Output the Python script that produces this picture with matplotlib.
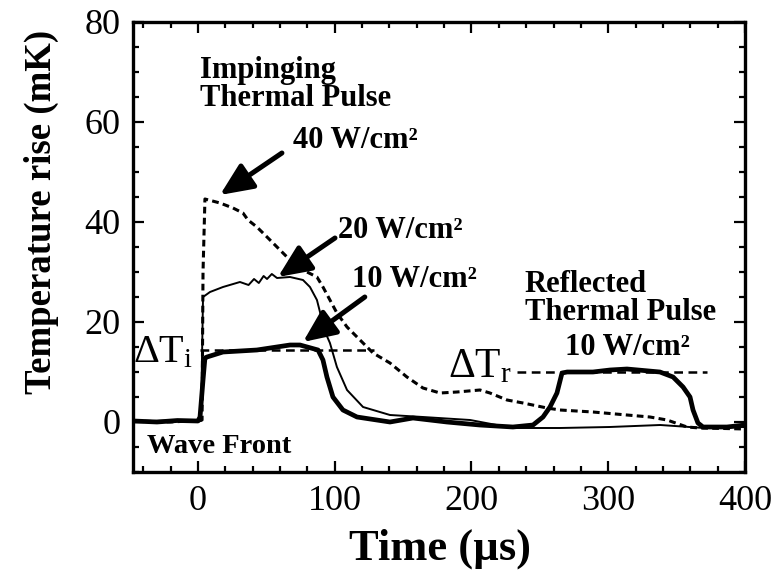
import matplotlib
matplotlib.use("Agg")
import matplotlib.pyplot as plt
from matplotlib.ticker import MultipleLocator

plt.rcParams.update({
    "font.family": ["Liberation Serif", "DejaVu Serif"],
    "mathtext.fontset": "custom",
    "mathtext.rm": "Liberation Serif",
    "mathtext.it": "Liberation Serif:italic",
    "mathtext.bf": "Liberation Serif:bold",
})

# time in microseconds, temperature rise in mK
t_40 = [-47, -20, 0, 3.0, 3.7, 5.1, 16.1, 25.6, 32.9, 36.6, 43.1, 50.5, 57.8, 65.1,
        72.4, 79.7, 87.0, 91.4, 96.5, 101.6, 109, 120.7, 128, 140.4, 152.8, 164.5,
        177, 189.4, 206.2, 213.5, 226, 237.7, 255.2, 264.7, 288.8, 313.7, 330.5,
        343, 357.6, 367, 385, 400]
T_40 = [0.2, 0.0, 0.3, 0.4, 30.0, 44.6, 43.8, 42.8, 41.8, 40.4, 39.0, 37.0, 35.0, 33.0,
        31.0, 30.0, 29.0, 27.0, 24.4, 21.8, 19.0, 15.8, 13.8, 11.8, 9.0, 6.8,
        5.8, 6.0, 6.4, 5.8, 4.4, 3.8, 2.8, 2.4, 2.0, 1.4, 1.0,
        0.4, -1.0, -1.2, -1.3, -1.4]

t_20 = [-47, -20, 0, 2.2, 3.7, 8.8, 18.3, 30.7, 37.0, 41.0, 44.5, 48.0, 50.5, 54.0,
        57.8, 67.3, 76.8, 81.9, 87.0, 90.7, 91.4, 96.5, 101.6, 109, 120.7, 140.4,
        164.5, 199, 230, 264.7, 301, 338, 370, 400]
T_20 = [0.1, 0.3, 0.1, 0.2, 25.0, 26.0, 27.0, 28.0, 27.4, 28.6, 27.8, 29.2, 28.6, 29.6,
        28.8, 29.0, 28.4, 27.0, 24.4, 20.4, 19.0, 15.8, 11.0, 6.4, 3.0, 1.4,
        1.0, 0.4, -1.2, -1.2, -1.0, -0.6, -1.2, -1.0]

t_10 = [-47, -30, -15, 0, 1.5, 3.7, 5.1, 6.6, 18.3, 43.1, 67.3, 74.6, 87.8, 91.4,
        94.3, 98.7, 106, 116.3, 140.4, 157.2, 182, 206, 230.3, 245, 252.3, 257.4,
        262.5, 266.2, 270, 288.8, 301.3, 313.7, 337.8, 347.4, 354.7, 359.8, 362,
        365.6, 369.3, 386.8, 400]
T_10 = [0.2, 0.0, 0.3, 0.2, 1.0, 8.4, 12.8, 13.0, 14.0, 14.4, 15.4, 15.4, 14.4, 12.4,
        9.0, 5.0, 2.4, 1.0, 0.0, 0.8, 0.0, -0.6, -1.0, -0.6, 1.0, 3.0,
        5.8, 9.8, 10.0, 10.0, 10.4, 10.6, 10.0, 9.0, 7.0, 5.0, 2.4,
        -0.2, -1.0, -1.0, -0.6]

# reference levels for the incident and reflected pulse heights
dTi_span, dTi_level = (1.5, 129), 14.5
dTr_span, dTr_level = (233, 372), 10.0

fig = plt.figure(figsize=(7.74, 5.77), dpi=100)
ax = fig.add_axes([133 / 774, 1 - 472 / 577, 612 / 774, 450 / 577])

ax.plot(t_10, T_10, color="k", lw=3.4, solid_joinstyle="round", zorder=3)
ax.plot(t_20, T_20, color="k", lw=1.4, zorder=3)
ax.plot(t_40, T_40, color="k", lw=2.2, linestyle=(0, (2.2, 1.4)), zorder=3)
ax.plot(dTi_span, [dTi_level] * 2, color="k", lw=1.8, linestyle=(0, (3.5, 2.2)))
ax.plot(dTr_span, [dTr_level] * 2, color="k", lw=1.8, linestyle=(0, (3.5, 2.2)))

ax.set_xlim(-47.5, 400)
ax.set_ylim(-10, 80)
ax.xaxis.set_major_locator(MultipleLocator(100))
ax.xaxis.set_minor_locator(MultipleLocator(20))
ax.yaxis.set_major_locator(MultipleLocator(20))
ax.yaxis.set_minor_locator(MultipleLocator(5))
ax.tick_params(which="both", direction="in", top=True, right=True,
               width=1.6, labelsize=26, pad=9)
ax.tick_params(which="major", length=8)
ax.tick_params(which="minor", length=4.5)
for s in ax.spines.values():
    s.set_linewidth(2.4)

ax.set_xlabel("Time (µs)", fontsize=32, fontweight="bold")
ax.xaxis.set_label_coords(0.502, -0.125)
ax.set_ylabel("Temperature rise (mK)", fontsize=26.5, fontweight="bold")
ax.yaxis.set_label_coords(-0.121, 0.578)

lab = dict(fontsize=22, fontweight="bold", color="k")
ax.text(1.5, 68.8, "Impinging", **lab)
ax.text(1.5, 63.2, "Thermal Pulse", **lab)
ax.text(69.5, 54.8, "40 W/cm²", **lab)
ax.text(102.4, 36.8, "20 W/cm²", **lab)
ax.text(112.6, 27.0, "10 W/cm²", **lab)
ax.text(239, 26.0, "Reflected", **lab)
ax.text(239, 20.4, "Thermal Pulse", **lab)
ax.text(268.4, 13.4, "10 W/cm²", **lab)
ax.text(-37.3, -6.2, "Wave Front", fontsize=20.5, fontweight="bold")
ax.text(-47.3, 12.0, r"$\Delta\mathrm{T}_{\mathrm{i}}$", fontsize=29)
ax.text(183, 9.0, r"$\Delta\mathrm{T}_{\mathrm{r}}$", fontsize=30)

arrow = dict(arrowstyle="-|>,head_length=0.9,head_width=0.4", color="k",
             lw=3.6, mutation_scale=22, shrinkA=0, shrinkB=0)
ax.annotate("", xy=(16.1, 45.4), xytext=(61.4, 53.8), arrowprops=arrow)
ax.annotate("", xy=(58.5, 29.0), xytext=(100.2, 36.8), arrowprops=arrow)
ax.annotate("", xy=(76.8, 16.0), xytext=(122, 25.0), arrowprops=arrow)

fig.savefig("out.png", dpi=100)
